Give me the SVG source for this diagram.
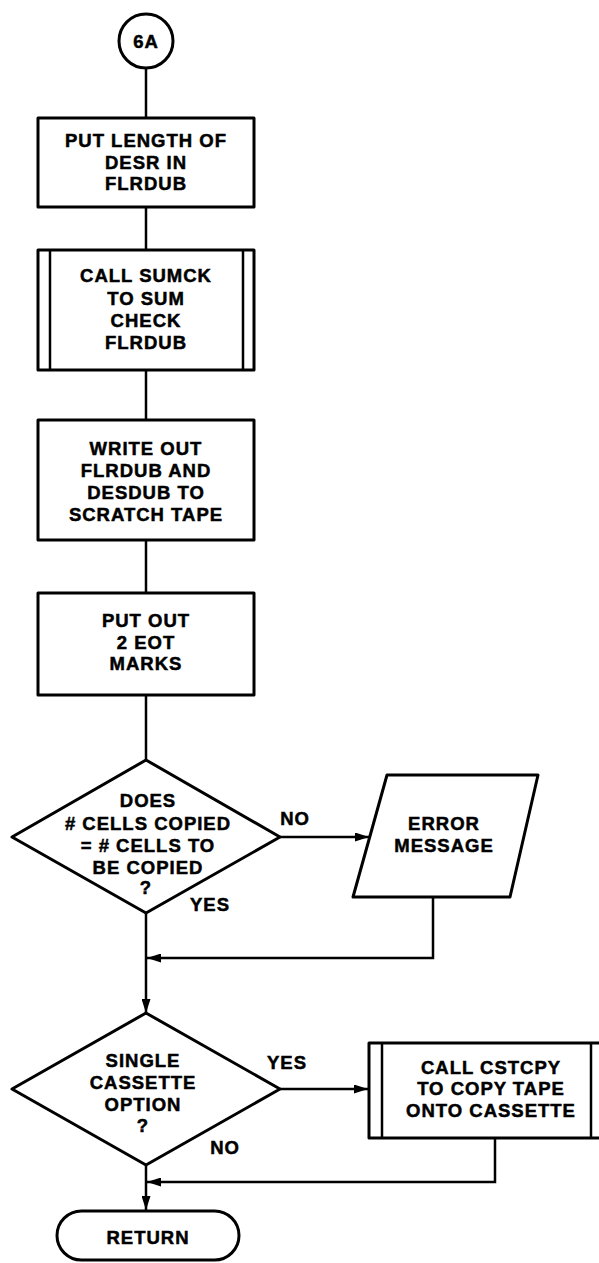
<svg xmlns="http://www.w3.org/2000/svg" width="599" height="1263" viewBox="0 0 599 1263">
<style>
.s{fill:#fff;stroke:#000;stroke-width:3;stroke-linejoin:round}
.t{font-family:"Liberation Sans",Arial,sans-serif;font-weight:bold;font-size:18.5px;letter-spacing:1px;text-anchor:middle;fill:#000;stroke:#000;stroke-width:0.5}
.c{fill:none;stroke:#000;stroke-width:2.5}
</style>
<defs>
<marker id="a" viewBox="0 0 14 9" refX="14" refY="4.5" markerWidth="14" markerHeight="9" markerUnits="userSpaceOnUse" orient="auto">
<path d="M0,0L14,4.5L0,9z" fill="#000"/>
</marker>
</defs>
<rect width="599" height="1263" fill="#fff"/>
<g id="connectors">
<line class="c" x1="146" y1="68" x2="146" y2="118"/>
<line class="c" x1="146" y1="207" x2="146" y2="250"/>
<line class="c" x1="146" y1="370" x2="146" y2="420"/>
<line class="c" x1="146" y1="540" x2="146" y2="593"/>
<line class="c" x1="146" y1="695" x2="146" y2="760"/>
<line class="c" x1="280" y1="837" x2="369" y2="837" marker-end="url(#a)"/>
<polyline class="c" points="433,897 433,958 147,958" marker-end="url(#a)"/>
<line class="c" x1="146" y1="913" x2="146" y2="1013" marker-end="url(#a)"/>
<line class="c" x1="280" y1="1089" x2="368" y2="1089" marker-end="url(#a)"/>
<polyline class="c" points="495,1138 495,1182 147,1182" marker-end="url(#a)"/>
<line class="c" x1="146" y1="1165" x2="146" y2="1210" marker-end="url(#a)"/>
</g>
<g id="n6A">
<circle class="s" cx="146" cy="41" r="27"/>
<text class="t" x="146" y="48">6A</text>
</g>
<g id="put-length">
<rect class="s" x="38" y="118" width="216" height="89"/>
<text class="t" x="146" y="147">PUT LENGTH OF</text>
<text class="t" x="146" y="169">DESR IN</text>
<text class="t" x="146" y="190">FLRDUB</text>
</g>
<g id="call-sumck">
<rect class="s" x="38" y="250" width="216" height="120"/>
<line class="c" x1="50" y1="250" x2="50" y2="370"/>
<line class="c" x1="243" y1="250" x2="243" y2="370"/>
<text class="t" x="146" y="282">CALL SUMCK</text>
<text class="t" x="146" y="305">TO SUM</text>
<text class="t" x="146" y="327">CHECK</text>
<text class="t" x="146" y="349">FLRDUB</text>
</g>
<g id="write-out">
<rect class="s" x="38" y="420" width="216" height="120"/>
<text class="t" x="146" y="455">WRITE OUT</text>
<text class="t" x="146" y="477">FLRDUB AND</text>
<text class="t" x="146" y="499">DESDUB TO</text>
<text class="t" x="146" y="521">SCRATCH TAPE</text>
</g>
<g id="put-out">
<rect class="s" x="38" y="593" width="216" height="102"/>
<text class="t" x="146" y="627">PUT OUT</text>
<text class="t" x="146" y="649">2 EOT</text>
<text class="t" x="146" y="670">MARKS</text>
</g>
<g id="decision-cells">
<polygon class="s" points="146,760 280,837 146,913 12,837"/>
<text class="t" x="148" y="807">DOES</text>
<text class="t" x="148" y="830"># CELLS COPIED</text>
<text class="t" x="148" y="852">= # CELLS TO</text>
<text class="t" x="148" y="874">BE COPIED</text>
<text class="t" x="146" y="894">?</text>
<text class="t" x="295" y="825">NO</text>
<text class="t" x="210" y="911">YES</text>
</g>
<g id="error-message">
<polygon class="s" points="387,775 538,775 510,897 353,897"/>
<text class="t" x="444" y="830">ERROR</text>
<text class="t" x="444" y="852">MESSAGE</text>
</g>
<g id="decision-single">
<polygon class="s" points="146,1013 280,1089 146,1165 12,1089"/>
<text class="t" x="143" y="1067">SINGLE</text>
<text class="t" x="143" y="1089">CASSETTE</text>
<text class="t" x="143" y="1111">OPTION</text>
<text class="t" x="143" y="1132">?</text>
<text class="t" x="287" y="1069">YES</text>
<text class="t" x="225" y="1154">NO</text>
</g>
<g id="call-cstcpy">
<rect class="s" x="369" y="1043" width="234" height="95"/>
<line class="c" x1="382" y1="1043" x2="382" y2="1138"/>
<line class="c" x1="591" y1="1043" x2="591" y2="1138"/>
<text class="t" x="491" y="1074">CALL CSTCPY</text>
<text class="t" x="491" y="1095">TO COPY TAPE</text>
<text class="t" x="491" y="1117">ONTO CASSETTE</text>
</g>
<g id="return">
<rect class="s" x="57" y="1211" width="182" height="49" rx="24.5"/>
<text class="t" x="148" y="1244">RETURN</text>
</g>
</svg>
